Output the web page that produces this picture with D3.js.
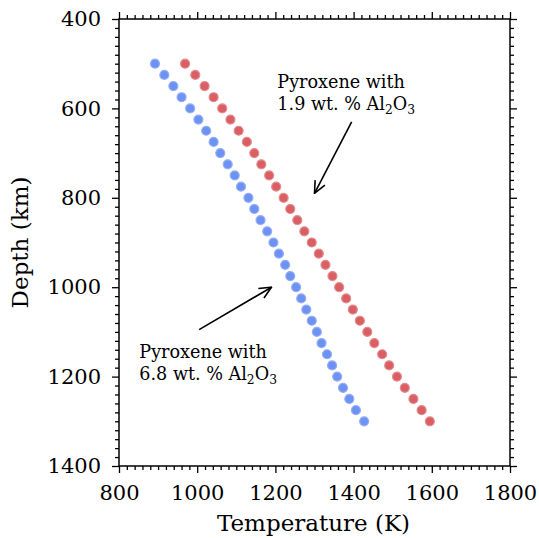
<!DOCTYPE html>
<html lang="en">
<head>
    <meta charset="UTF-8">
    <title>Pyroxene temperature vs depth</title>
    <script src="https://d3js.org/d3.v7.min.js"></script>
    <style>
        body { margin: 0; background: #fff; }
        text { font-family: "DejaVu Serif", serif; fill: #000; }
    </style>
</head>
<body>
    <div id="chart"></div>
    <script>
        // Depths shared by both series (km)
        const depths = d3.range(33).map(i => 500 + 25 * i);

        // Temperatures (K)
        const tempLowAl = [969, 995, 1019, 1042, 1064, 1085, 1106, 1127, 1146, 1164,
            1184, 1202, 1221, 1238, 1256, 1274, 1293, 1311, 1328, 1346,
            1363, 1381, 1398, 1416, 1435, 1453, 1473, 1491, 1511, 1531,
            1553, 1574, 1595];
        const tempHighAl = [892, 916, 939, 960, 982, 1003, 1023, 1042, 1059, 1078,
            1096, 1112, 1131, 1146, 1162, 1179, 1195, 1209, 1225, 1238,
            1253, 1266, 1279, 1293, 1306, 1318, 1332, 1345, 1358, 1373,
            1389, 1406, 1427];

        const xTicks = [800, 1000, 1200, 1400, 1600, 1800];
        const yTicks = [400, 600, 800, 1000, 1200, 1400];

        // Annotations: text anchor and arrow tail/head in data units
        const notes = [
            {lines: ["Pyroxene with", "1.9 wt. % Al"], textAt: [1205, 555], tail: [1395, 630], head: [1300, 790]},
            {lines: ["Pyroxene with", "6.8 wt. % Al"], textAt: [852, 1159], tail: [1005, 1095], head: [1190, 1000]}
        ];

        const W = 539, H = 538;
        const margin = {top: 19, right: 29, bottom: 72, left: 119};
        const width = W - margin.left - margin.right;
        const height = H - margin.top - margin.bottom;

        const x = d3.scaleLinear().domain([800, 1800]).range([0, width]);
        const y = d3.scaleLinear().domain([400, 1400]).range([0, height]);

        const svg = d3.select("#chart").append("svg")
            .attr("width", W).attr("height", H);

        svg.append("defs").append("marker")
            .attr("id", "arrow")
            .attr("viewBox", "0 0 14 14")
            .attr("refX", 13).attr("refY", 7)
            .attr("markerWidth", 14).attr("markerHeight", 14)
            .attr("markerUnits", "userSpaceOnUse")
            .attr("orient", "auto")
            .append("path")
            .attr("d", "M 1 1.5 L 13 7 L 1 12.5")
            .attr("fill", "none")
            .attr("stroke", "#000")
            .attr("stroke-width", 1.6);

        const g = svg.append("g")
            .attr("transform", `translate(${margin.left},${margin.top})`);

        // minor + major ticks on all four sides
        const minorX = d3.range(800, 1801, 20).filter(v => v % 200 !== 0);
        const minorY = d3.range(400, 1401, 20).filter(v => v % 200 !== 0);

        function styleAxis(sel) {
            sel.select(".domain").remove();
            sel.selectAll("line").attr("stroke", "#000").attr("stroke-width", 1.3);
            sel.selectAll("text").attr("font-size", "21px").attr("font-family", "DejaVu Serif");
        }

        g.append("g").attr("transform", `translate(0,${height})`)
            .call(d3.axisBottom(x).tickValues(xTicks).tickSize(7).tickPadding(12).tickFormat(d3.format("d")))
            .call(styleAxis);
        g.append("g").attr("transform", `translate(0,${height})`)
            .call(d3.axisBottom(x).tickValues(minorX).tickSize(4).tickFormat(""))
            .call(styleAxis);
        g.append("g")
            .call(d3.axisTop(x).tickValues(xTicks).tickSize(7).tickFormat(""))
            .call(styleAxis);
        g.append("g")
            .call(d3.axisTop(x).tickValues(minorX).tickSize(4).tickFormat(""))
            .call(styleAxis);
        g.append("g")
            .call(d3.axisLeft(y).tickValues(yTicks).tickSize(7).tickPadding(11).tickFormat(d3.format("d")))
            .call(styleAxis);
        g.append("g")
            .call(d3.axisLeft(y).tickValues(minorY).tickSize(4).tickFormat(""))
            .call(styleAxis);
        g.append("g").attr("transform", `translate(${width},0)`)
            .call(d3.axisRight(y).tickValues(yTicks).tickSize(7).tickFormat(""))
            .call(styleAxis);
        g.append("g").attr("transform", `translate(${width},0)`)
            .call(d3.axisRight(y).tickValues(minorY).tickSize(4).tickFormat(""))
            .call(styleAxis);

        g.append("rect")
            .attr("width", width).attr("height", height)
            .attr("fill", "none").attr("stroke", "#000").attr("stroke-width", 1.5);

        // data points
        const series = [
            {temps: tempHighAl, fill: "#6d92f4", edge: "#93aff7"},
            {temps: tempLowAl, fill: "#d95f64", edge: "#e58b8e"}
        ];
        series.forEach(s => {
            g.append("g").selectAll("circle")
                .data(depths.map((d, i) => ({t: s.temps[i], d: d})))
                .join("circle")
                .attr("cx", p => x(p.t))
                .attr("cy", p => y(p.d))
                .attr("r", 4.5)
                .attr("fill", s.fill)
                .attr("stroke", s.edge)
                .attr("stroke-width", 1.2);
        });

        // annotations
        notes.forEach(n => {
            g.append("line")
                .attr("x1", x(n.tail[0])).attr("y1", y(n.tail[1]))
                .attr("x2", x(n.head[0])).attr("y2", y(n.head[1]))
                .attr("stroke", "#000").attr("stroke-width", 1.6)
                .attr("marker-end", "url(#arrow)");
            const t = g.append("text")
                .attr("x", x(n.textAt[0])).attr("y", y(n.textAt[1]))
                .attr("font-size", "17.6px");
            t.append("tspan").text(n.lines[0]);
            t.append("tspan").attr("x", x(n.textAt[0])).attr("dy", 21.7).text(n.lines[1]);
            t.append("tspan").attr("font-size", "12.3px").attr("dy", 4).text("2");
            t.append("tspan").attr("dy", -4).text("O");
            t.append("tspan").attr("font-size", "12.3px").attr("dy", 4).text("3");
        });

        // axis labels
        svg.append("text")
            .attr("x", margin.left + width / 2 - 1).attr("y", 531)
            .attr("text-anchor", "middle").attr("font-size", "23px")
            .text("Temperature (K)");
        svg.append("text")
            .attr("transform", `translate(28,${margin.top + height / 2}) rotate(-90)`)
            .attr("text-anchor", "middle").attr("font-size", "23px")
            .text("Depth (km)");
    </script>
</body>
</html>
